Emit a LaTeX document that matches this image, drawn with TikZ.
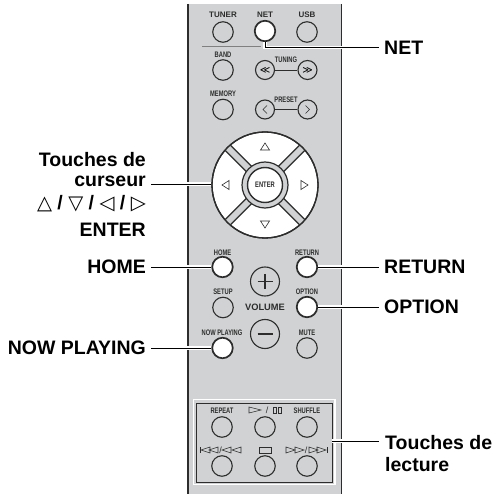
\documentclass[tikz,border=0pt]{standalone}
\usepackage{fontspec}
\setmainfont{Liberation Sans}
\newfontfamily\narrowfont[FakeStretch=0.72]{Liberation Sans}
\newfontfamily\symfont{DejaVu Sans}
\definecolor{panelgray}{RGB}{208,210,211}
\definecolor{linedark}{RGB}{45,45,45}
\begin{document}
\begin{tikzpicture}[
    x=1pt, y=-1pt,
    knob/.style={circle, draw=linedark, line width=1.1pt, minimum size=20.5pt, inner sep=0pt}, % Plain button
    hotknob/.style={knob, fill=white, line width=1.7pt}, % Button with a callout
    widetext/.style={font=\bfseries\fontsize{8}{9}\selectfont, text=linedark, inner sep=0pt},
    smalltext/.style={font=\narrowfont\bfseries\fontsize{8}{9}\selectfont, text=linedark, inner sep=0pt},
    calltext/.style={font=\bfseries\fontsize{19.5}{22}\selectfont, inner sep=0pt},
    leader/.style={line width=0.9pt, black, preaction={draw, white, line width=3.6pt}}, % Callout line
    glyph/.style={draw=linedark, line width=0.6pt}
]
    \useasboundingbox (0,0) rectangle (495,494);

    % --- Panel ---
    \fill[panelgray] (188,4) rectangle (341.5,494);
    \draw[line width=1.1pt, linedark] (188,4) -- (188,494);
    \draw[line width=1.1pt, linedark] (341.5,4) -- (341.5,494);

    % --- Top row ---
    \node[knob] (tuner) at (223,32) {};
    \node[hotknob] (net) at (265,31) {};
    \node[knob] (usb) at (307,32) {};
    \node[widetext] (tunerlabel) at (223,15) {TUNER};
    \node[widetext] (netlabel) at (265,15) {NET};
    \node[widetext] (usblabel) at (307,15) {USB};
    \draw[line width=1pt, gray] (202,46.7) -- (261,46.7);

    % --- Tuning and preset ---
    \node[knob] (band) at (223,70) {};
    \node[knob] (memory) at (223,109.5) {};
    \node[smalltext] (bandlabel) at (223,55) {BAND};
    \node[smalltext] (memorylabel) at (223,94) {MEMORY};
    \node[knob, minimum size=19pt] (tunedown) at (265,70) {\symfont\fontsize{10}{10}\selectfont ≪};
    \node[knob, minimum size=19pt] (tuneup) at (307.5,70) {\symfont\fontsize{10}{10}\selectfont ≫};
    \node[knob, minimum size=19pt] (presetdown) at (265,109.5) {};
    \node[knob, minimum size=19pt] (presetup) at (307.5,109.5) {};
    \draw[line width=0.8pt, linedark] (tunedown) -- (tuneup);
    \draw[line width=0.8pt, linedark] (presetdown) -- (presetup);
    \node[smalltext] (tuninglabel) at (286,60) {TUNING};
    \node[smalltext] (presetlabel) at (286,99.5) {PRESET};
    \draw[glyph] (267,105.5) -- (263,109.5) -- (267,113.5);
    \draw[glyph] (305.5,105.5) -- (309.5,109.5) -- (305.5,113.5);

    % --- Cursor pad ---
    \node[circle, draw=linedark, fill=white, line width=1.3pt, minimum size=106pt, inner sep=0pt] (pad) at (265,185) {};
    \foreach \ang in {45,135,225,315}
        \draw[line width=8.5pt, linedark] (265,185) -- ++(\ang:52.5);
    \foreach \ang in {45,135,225,315}
        \draw[line width=6pt, panelgray] (265,185) -- ++(\ang:53);
    \node[circle, draw=linedark, line width=1.3pt, minimum size=106pt, inner sep=0pt] (padrim) at (265,185) {};
    \node[circle, draw=linedark, fill=panelgray, line width=1.2pt, minimum size=46pt, inner sep=0pt] (padring) at (265,185) {};
    \node[circle, draw=linedark, fill=white, line width=1.4pt, minimum size=35pt, inner sep=0pt,
        smalltext] (enter) at (265,185) {ENTER};
    \draw[glyph] (265,143) -- (260.5,150) -- (269.5,150) -- cycle;
    \draw[glyph] (265,228) -- (260.5,221) -- (269.5,221) -- cycle;
    \draw[glyph] (222,185) -- (229,180.5) -- (229,189.5) -- cycle;
    \draw[glyph] (308,185) -- (301,180.5) -- (301,189.5) -- cycle;

    % --- Lower buttons ---
    \node[hotknob] (home) at (222.5,267) {};
    \node[hotknob] (return) at (307,267) {};
    \node[knob] (setup) at (223,307.5) {};
    \node[hotknob] (option) at (307,307) {};
    \node[hotknob] (nowplaying) at (222.5,348) {};
    \node[knob] (mute) at (307,348) {};
    \node[smalltext] (homelabel) at (222.5,253) {HOME};
    \node[smalltext] (returnlabel) at (307,253) {RETURN};
    \node[smalltext] (setuplabel) at (223,292) {SETUP};
    \node[smalltext] (optionlabel) at (307,292) {OPTION};
    \node[smalltext] (nowlabel) at (222,332.5) {NOW PLAYING};
    \node[smalltext] (mutelabel) at (307,332.5) {MUTE};

    % --- Volume ---
    \node[knob, minimum size=29pt] (volup) at (265,281.5) {};
    \node[knob, minimum size=29pt] (voldown) at (265,334) {};
    \draw[line width=1.3pt, linedark] (257.5,281.5) -- (272.5,281.5) (265,274) -- (265,289);
    \draw[line width=1.3pt, linedark] (257.5,334) -- (272.5,334);
    \node[widetext, font=\bfseries\fontsize{9.3}{10}\selectfont] (vollabel) at (265,307.7) {VOLUME};

    % --- Playback box ---
    \draw[white, line width=1.2pt] (193.5,399.5) rectangle (335,484.5);
    \draw[linedark, line width=0.8pt] (196,403) rectangle (332,482);
    \node[knob] (repeat) at (222,427) {};
    \node[knob] (play) at (265,427) {};
    \node[knob] (shuffle) at (307,427) {};
    \node[knob] (prev) at (222,466) {};
    \node[knob] (stop) at (265,466) {};
    \node[knob] (next) at (307,466) {};
    \node[smalltext] (repeatlabel) at (222,411) {REPEAT};
    \node[smalltext] (shufflelabel) at (307,411) {SHUFFLE};
    \draw[glyph] (249,407) -- (261,410) -- (249,413) -- cycle;
    \node[font=\fontsize{9}{9}\selectfont, text=linedark, inner sep=0pt] (playslash) at (267,410) {/};
    \draw[glyph] (273,407) rectangle (276,413);
    \draw[glyph] (278,407) rectangle (281,413);
    \draw[glyph] (259,447) rectangle (271,453);
    \foreach \xa in {201,209,222,232}
        \draw[glyph] (\xa+9,447) -- (\xa,450) -- (\xa+9,453) -- cycle;
    \draw[glyph] (200,447) -- (200,453);
    \foreach \xa in {286,295,309,317}
        \draw[glyph] (\xa,447) -- (\xa+9,450) -- (\xa,453) -- cycle;
    \draw[glyph] (327,447) -- (327,453);
    \node[font=\fontsize{9}{9}\selectfont, text=linedark, inner sep=0pt] (prevslash) at (220.5,450) {/};
    \node[font=\fontsize{9}{9}\selectfont, text=linedark, inner sep=0pt] (nextslash) at (306,450) {/};

    % --- Callouts ---
    \node[calltext, anchor=west] (netcall) at (384,47.7) {NET};
    \node[calltext, anchor=west] (returncall) at (384,267) {RETURN};
    \node[calltext, anchor=west] (optioncall) at (384,307) {OPTION};
    \node[calltext, anchor=east] (homecall) at (146,267) {HOME};
    \node[calltext, anchor=east] (playingcall) at (146,348) {NOW PLAYING};
    \node[calltext, anchor=east] (cursortop) at (146,160) {Touches de};
    \node[calltext, anchor=east] (cursorline) at (146,181) {curseur};
    \node[calltext, anchor=east] (cursorarrows) at (146,204) {{\symfont△} / {\symfont▽} / {\symfont◁} / {\symfont▷}};
    \node[calltext, anchor=east] (entercall) at (146,230) {ENTER};
    \node[calltext, anchor=west] (playcall) at (385,443) {Touches de};
    \node[calltext, anchor=west] (playline) at (385,465) {lecture};

    % --- Leaders ---
    \coordinate (netbend) at (265,47.7);
    \coordinate (netend) at (379,47.7);
    \coordinate (cursorend) at (151,184);
    \coordinate (boxend) at (332.4,441);
    \coordinate (playend) at (379,441);
    \draw[leader] (net.south) -- (netbend) -- (netend);
    \draw[leader] (cursorend) -- (cursorend -| pad.west);
    \draw[leader] ([xshift=5pt]homecall.east) -- (home.west);
    \draw[leader] ([xshift=5pt]playingcall.east) -- (nowplaying.west);
    \draw[leader] (return.east) -- ([xshift=-5pt]returncall.west);
    \draw[leader] (option.east) -- ([xshift=-5pt]optioncall.west);
    \draw[leader] (boxend) -- (playend);
\end{tikzpicture}
\end{document}
